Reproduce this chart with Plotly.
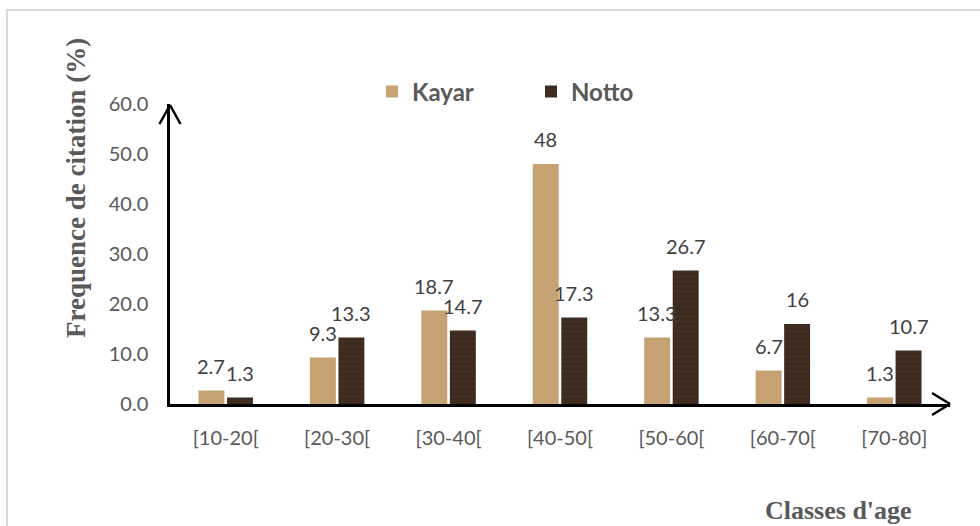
import plotly.graph_objects as go

# Age classes and citation frequency (%) per site
age_classes = ["[10-20[", "[20-30[", "[30-40[", "[40-50[", "[50-60[", "[60-70[", "[70-80]"]
kayar = [2.7, 9.3, 18.7, 48, 13.3, 6.7, 1.3]
notto = [1.3, 13.3, 14.7, 17.3, 26.7, 16, 10.7]
y_ticks = [0, 10, 20, 30, 40, 50, 60]

W, H = 980, 526
L, R, T, B = 170, 30, 104, 122
PW, PH = W - L - R, H - T - B

def px_x(px):
    return (px - L) / PW

def px_y(py):
    return (H - B - py) / PH

TICK_FONT = dict(family="Lato", size=20, color="#595959")
LABEL_FONT = dict(family="Lato", size=20, color="#404040")

fig = go.Figure()
fig.add_trace(go.Bar(
    name="Kayar", x=age_classes, y=kayar,
    marker=dict(color="#C6A273", line=dict(width=0)),
))
fig.add_trace(go.Bar(
    name="Notto", x=age_classes, y=notto,
    marker=dict(color="#3C2A1F", line=dict(width=0),
                pattern=dict(shape="-", fgcolor="#4E382A", size=5, solidity=0.3, fillmode="overlay")),
))

# Value labels above each bar
slot = PW / len(age_classes) * (1 - 0.488) / 2
for series, shift in ((kayar, -slot / 2), (notto, slot / 2)):
    for cat, v in zip(age_classes, series):
        fig.add_annotation(x=cat, y=v, text=f"{v:g}", showarrow=False,
                           xshift=shift, yshift=25, yanchor="middle",
                           font=LABEL_FONT)

arrow = dict(type="line", xref="paper", yref="paper",
             line=dict(color="black", width=2.5), layer="above")
shapes = [
    # outer frame
    dict(type="rect", xref="paper", yref="paper",
         x0=px_x(7), x1=px_x(990), y0=px_y(540), y1=px_y(10),
         line=dict(color="#D9D9D9", width=2), fillcolor="rgba(0,0,0,0)", layer="below"),
    # y-axis arrow head
    dict(arrow, x0=px_x(159.5), y0=px_y(124), x1=px_x(170), y1=px_y(105)),
    dict(arrow, x0=px_x(180.5), y0=px_y(124), x1=px_x(170), y1=px_y(105)),
    # x-axis arrow head
    dict(arrow, x0=px_x(932), y0=px_y(393), x1=px_x(950), y1=px_y(404)),
    dict(arrow, x0=px_x(932), y0=px_y(415), x1=px_x(950), y1=px_y(404)),
]

# Axis titles
fig.add_annotation(xref="paper", yref="paper", x=px_x(76), y=px_y(188),
                   text="<b>Frequence de citation (%)</b>", textangle=-90,
                   showarrow=False, xanchor="center", yanchor="middle",
                   font=dict(family="Liberation Serif", size=27, color="#595959"))
fig.add_annotation(xref="paper", yref="paper", x=px_x(838), y=px_y(510),
                   text="<b>Classes d'age</b>", showarrow=False,
                   xanchor="center", yanchor="middle",
                   font=dict(family="Liberation Serif", size=26, color="#595959"))

fig.update_layout(
    width=W, height=H,
    margin=dict(l=L, r=R, t=T, b=B),
    paper_bgcolor="white", plot_bgcolor="white",
    barmode="group", bargap=0.488, bargroupgap=0.09,
    shapes=shapes,
    legend=dict(orientation="h", x=px_x(372), y=px_y(92), xanchor="left", yanchor="middle",
                entrywidth=114, entrywidthmode="pixels",
                font=dict(family="Lato", size=24, color="#595959", weight="bold"),
                bgcolor="rgba(0,0,0,0)"),
    xaxis=dict(type="category", range=[-0.5, 6.5], showline=True, linecolor="black",
               linewidth=2.5, showgrid=False, ticks="", tickfont=TICK_FONT,
               ticklabelstandoff=14, zeroline=False),
    yaxis=dict(range=[0, 60], tickvals=y_ticks, ticktext=[f"{v:.1f}" for v in y_ticks],
               showline=True, linecolor="black", linewidth=2.5, showgrid=False,
               ticks="", tickfont=TICK_FONT, ticklabelstandoff=15, zeroline=False),
)

fig.write_html("out.html")
